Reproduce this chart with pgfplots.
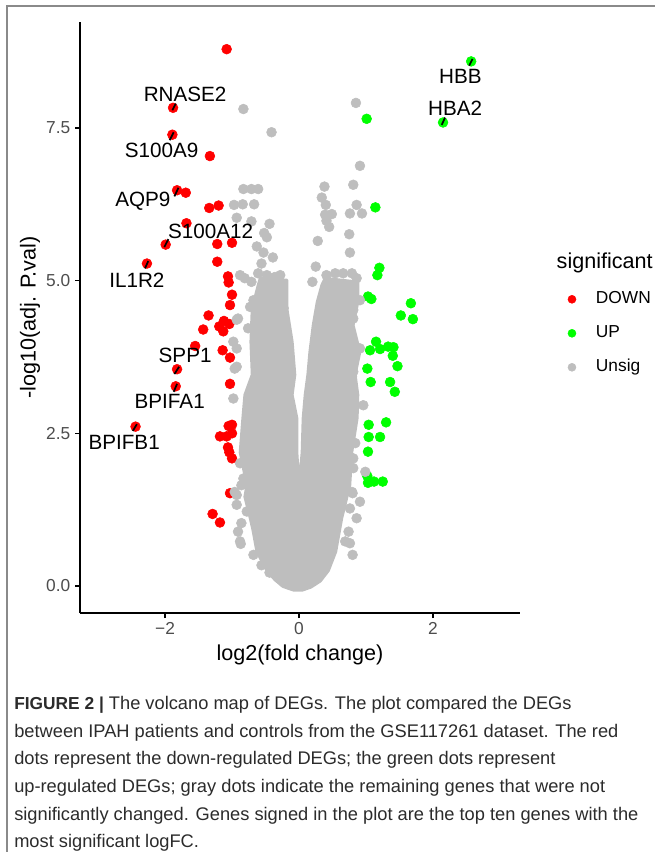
\documentclass[border=0pt]{standalone}
\usepackage{fontspec}
\setmainfont{Liberation Sans}
\usepackage{pgfplots}
\pgfplotsset{compat=1.18}

\definecolor{down}{HTML}{FF0000}
\definecolor{up}{HTML}{00FF00}
\definecolor{unsig}{HTML}{BEBEBE}
\definecolor{tickgray}{HTML}{4D4D4D}
\definecolor{framegray}{HTML}{8A8A8A}
\definecolor{captext}{HTML}{2B2B2B}

\begin{document}
\begin{tikzpicture}
% page = 655 x 852 px, 1px = 0.75pt, origin at the top left corner
\path[use as bounding box] (0,0) rectangle (491.25pt,-639pt);
\draw[framegray, line width=1.4pt] (5.25pt,-639pt) -- (5.25pt,-4.5pt) -- (491.25pt,-4.5pt);

\begin{axis}[
    at={(60pt,-459.75pt)}, anchor=south west,
    scale only axis, width=330pt, height=443.25pt,
    xmin=-3.269, xmax=3.299, ymin=-0.442, ymax=9.235,
    axis x line*=bottom, axis y line*=left,
    axis line style={-, black, line width=1.5pt},
    xtick={-2,0,2}, xticklabels={−2,0,2},
    ytick={0,2.5,5,7.5}, yticklabels={0.0,2.5,5.0,7.5},
    tick align=outside, major tick length=3.75pt,
    tick style={black, line width=1.1pt},
    ticklabel style={font=\fontsize{13}{15}\selectfont, text=tickgray},
    xlabel={log2(fold change)}, ylabel={-log10(adj. P.val)},
    xlabel style={at={(axis description cs:0.5,-0.0711)}, anchor=center},
    ylabel style={at={(axis description cs:-0.1136,0.5)}, anchor=center},
    label style={font=\fontsize{16.2}{19}\selectfont},
    clip=false, clip marker paths=true,
    legend style={draw=none, fill=none, inner sep=0pt, anchor=west,
      at={(axis description cs:1.1084,0.4733)},
      font=\fontsize{13}{15}\selectfont, row sep=10.5pt,
      nodes={inner sep=1pt, text height=10pt, text depth=3pt},
      /tikz/every odd column/.append style={column sep=14pt}},
    legend cell align=left,
    legend image post style={mark size=3pt},
  ]

  % dense core of the unsignificant genes
  \addplot[fill=unsig, draw=unsig, line width=2pt, line join=round, forget plot] coordinates {
    (-0.08,-0.07) (-0.24,-0.01) (-0.36,0.10) (-0.48,0.25) (-0.63,0.56) (-0.69,0.92)
    (-0.73,1.11) (-0.81,1.46) (-0.78,1.65) (-0.88,2.19) (-0.84,2.75) (-0.81,3.13)
    (-0.70,3.46) (-0.72,4.00) (-0.70,4.55) (-0.61,4.93) (-0.58,5.04) (-0.18,5.01)
    (-0.18,4.55) (-0.10,4.00) (-0.06,3.46) (-0.10,3.13) (-0.03,2.75) (-0.03,2.19)
    (0.0,1.67) (0.045,2.19) (0.06,2.75) (0.09,3.13) (0.13,3.46) (0.16,3.83)
    (0.21,4.27) (0.27,4.65) (0.34,4.93) (0.39,5.04) (0.88,4.98) (0.88,4.65)
    (0.81,4.27) (0.91,3.83) (0.84,3.46) (0.88,3.13) (0.87,2.75) (0.79,2.19)
    (0.76,1.65) (0.64,1.11) (0.55,0.56) (0.44,0.25) (0.32,0.08) (0.18,-0.02)
    (0.05,-0.07)
  } -- cycle;

  \addplot[only marks, mark=*, mark size=3.7pt, color=down] coordinates {
    (-1.08,8.79) (-1.88,7.83) (-1.89,7.39) (-1.33,7.04) (-1.82,6.48) (-1.69,6.44)
    (-1.34,6.19) (-1.20,6.23) (-1.68,5.94) (-1.99,5.59) (-1.22,5.60) (-1.00,5.62)
    (-1.22,5.31) (-2.27,5.28) (-1.06,5.07) (-1.05,4.97) (-1.00,4.77) (-1.03,4.60)
    (-1.35,4.43) (-1.12,4.34) (-1.04,4.29) (-1.19,4.25) (-1.13,4.17) (-1.43,4.20)
    (-1.55,3.93) (-1.14,3.86) (-1.03,3.74) (-1.82,3.55) (-1.84,3.27) (-1.03,3.31)
    (-2.44,2.61) (-1.00,2.64) (-1.05,2.62) (-1.18,2.45) (-1.08,2.45) (-1.00,2.50)
    (-1.06,2.27) (-1.04,2.19) (-1.00,2.09) (-1.03,1.52) (-1.29,1.18) (-1.18,1.04)
  };
  \addlegendentry{DOWN}

  \addplot[only marks, mark=*, mark size=3.7pt, color=up] coordinates {
    (2.57,8.59) (2.15,7.59) (1.01,7.65) (1.14,6.20) (1.20,5.21) (1.17,5.09)
    (1.03,4.74) (1.08,4.70) (1.67,4.63) (1.52,4.43) (1.70,4.37) (1.15,4.00)
    (1.06,3.86) (1.21,3.88) (1.33,3.92) (1.41,3.91) (1.40,3.77) (1.47,3.60)
    (1.02,3.56) (1.07,3.34) (1.36,3.34) (1.43,3.18) (1.30,2.68) (1.04,2.64)
    (1.04,2.44) (1.21,2.44) (1.03,2.20) (1.02,1.80) (1.03,1.69) (1.12,1.71)
    (1.25,1.71)
  };
  \addlegendentry{UP}

  \addplot[only marks, mark=*, mark size=3.7pt, color=unsig] coordinates {
    (-0.83,7.81) (-0.41,7.43) (0.85,7.91) (0.91,6.88) (0.81,6.57) (0.38,6.54)
    (0.34,6.36) (0.40,6.24) (0.49,6.09) (0.39,6.08) (0.41,5.98) (0.45,5.88)
    (0.86,6.24) (0.94,6.10) (0.76,6.10) (0.75,5.76) (0.76,5.46) (0.28,5.65)
    (0.25,5.23)
    (-0.83,6.50) (-0.71,6.50) (-0.61,6.50) (-0.97,6.24) (-0.84,6.25) (-0.67,6.25)
    (-0.93,6.03) (-0.71,5.97) (-0.44,5.93) (-0.52,5.78) (-0.48,5.71) (-0.63,5.56)
    (-0.53,5.46) (-0.39,5.38) (-0.56,5.28)
    (-0.88,5.09) (-0.81,5.04) (-0.71,4.98) (-0.61,5.12) (-0.48,5.09) (-0.36,5.06)
    (-0.28,5.09) (-0.91,4.38) (-0.76,4.22) (-0.93,3.89) (-0.96,3.56) (-0.73,4.57)
    (-0.68,4.68) (-0.23,4.55) (-0.93,4.36) (-0.98,4.00) (-0.93,3.59)
    (0.41,5.09) (0.54,5.12) (0.66,5.12) (0.79,5.12) (0.86,5.04) (0.20,4.98)
    (0.91,3.89) (0.81,4.38) (0.79,3.43) (0.69,3.56) (0.81,4.52) (0.89,3.89)
    (0.81,3.51) (0.96,2.96) (0.91,4.68)
    (-0.98,3.07) (-0.88,2.01) (-0.76,1.93) (-0.93,1.49) (-0.86,1.65) (-0.78,1.22)
    (-0.91,0.89) (-0.88,0.73) (-0.68,0.51) (-0.56,0.34) (-0.61,1.38) (-0.96,1.54)
    (-0.83,1.76) (-0.93,1.33) (-0.86,1.03) (-0.87,0.69) (-0.44,0.22)
    (0.84,2.34) (0.81,2.09) (0.81,1.93) (0.79,1.54) (0.91,1.38) (0.76,1.27)
    (0.86,1.11) (0.74,0.89) (0.69,0.73) (0.80,0.51) (0.99,1.87) (0.80,1.52)
    (0.76,0.70)
  };
  \addlegendentry{Unsig}

  % label segments (ggrepel)
  \addplot[black, line width=1.3pt, no marks, forget plot] coordinates {(-1.89,7.79) (-1.84,7.90)};
  \addplot[black, line width=1.3pt, no marks, forget plot] coordinates {(-1.87,7.43) (-1.93,7.30)};
  \addplot[black, line width=1.3pt, no marks, forget plot] coordinates {(-1.80,6.52) (-1.86,6.38)};
  \addplot[black, line width=1.3pt, no marks, forget plot] coordinates {(-2.01,5.55) (-1.95,5.68)};
  \addplot[black, line width=1.3pt, no marks, forget plot] coordinates {(-2.25,5.32) (-2.30,5.20)};
  \addplot[black, line width=1.3pt, no marks, forget plot] coordinates {(-1.79,3.59) (-1.86,3.47)};
  \addplot[black, line width=1.3pt, no marks, forget plot] coordinates {(-1.82,3.31) (-1.87,3.18)};
  \addplot[black, line width=1.3pt, no marks, forget plot] coordinates {(-2.42,2.65) (-2.48,2.54)};
  \addplot[black, line width=1.3pt, no marks, forget plot] coordinates {(2.59,8.63) (2.54,8.52)};
  \addplot[black, line width=1.3pt, no marks, forget plot] coordinates {(2.13,7.55) (2.18,7.67)};

  \begin{scope}[every node/.style={font=\fontsize{15.5}{18}\selectfont}]
    \node at (axis cs:-1.70,8.05) {RNASE2};
    \node at (axis cs:-2.05,7.13) {S100A9};
    \node at (axis cs:-2.33,6.30) {AQP9};
    \node at (axis cs:-1.32,5.81) {S100A12};
    \node at (axis cs:-2.42,5.01) {IL1R2};
    \node at (axis cs:-1.70,3.78) {SPP1};
    \node at (axis cs:-1.93,3.02) {BPIFA1};
    \node at (axis cs:-2.61,2.35) {BPIFB1};
    \node at (axis cs:2.41,8.34) {HBB};
    \node at (axis cs:2.33,7.82) {HBA2};
  \end{scope}
\end{axis}

\node[anchor=west, font=\fontsize{16.2}{19}\selectfont] at (414pt,-197.25pt) {significant};

\begin{scope}[every node/.style={anchor=base west, inner sep=0pt, text=captext,
    font=\fontsize{13.7}{15}\selectfont}]
  \node at (10.5pt,-531.75pt) {{\fontsize{13}{15}\selectfont\textbf{FIGURE 2 |}} The volcano map of DEGs. The plot compared the DEGs};
  \node at (10.5pt,-552.75pt) {between IPAH patients and controls from the GSE117261 dataset. The red};
  \node at (10.5pt,-573pt) {dots represent the down-regulated DEGs; the green dots represent};
  \node at (10.5pt,-594pt) {up-regulated DEGs; gray dots indicate the remaining genes that were not};
  \node at (10.5pt,-615pt) {significantly changed. Genes signed in the plot are the top ten genes with the};
  \node at (10.5pt,-635.25pt) {most significant logFC.};
\end{scope}
\end{tikzpicture}
\end{document}
